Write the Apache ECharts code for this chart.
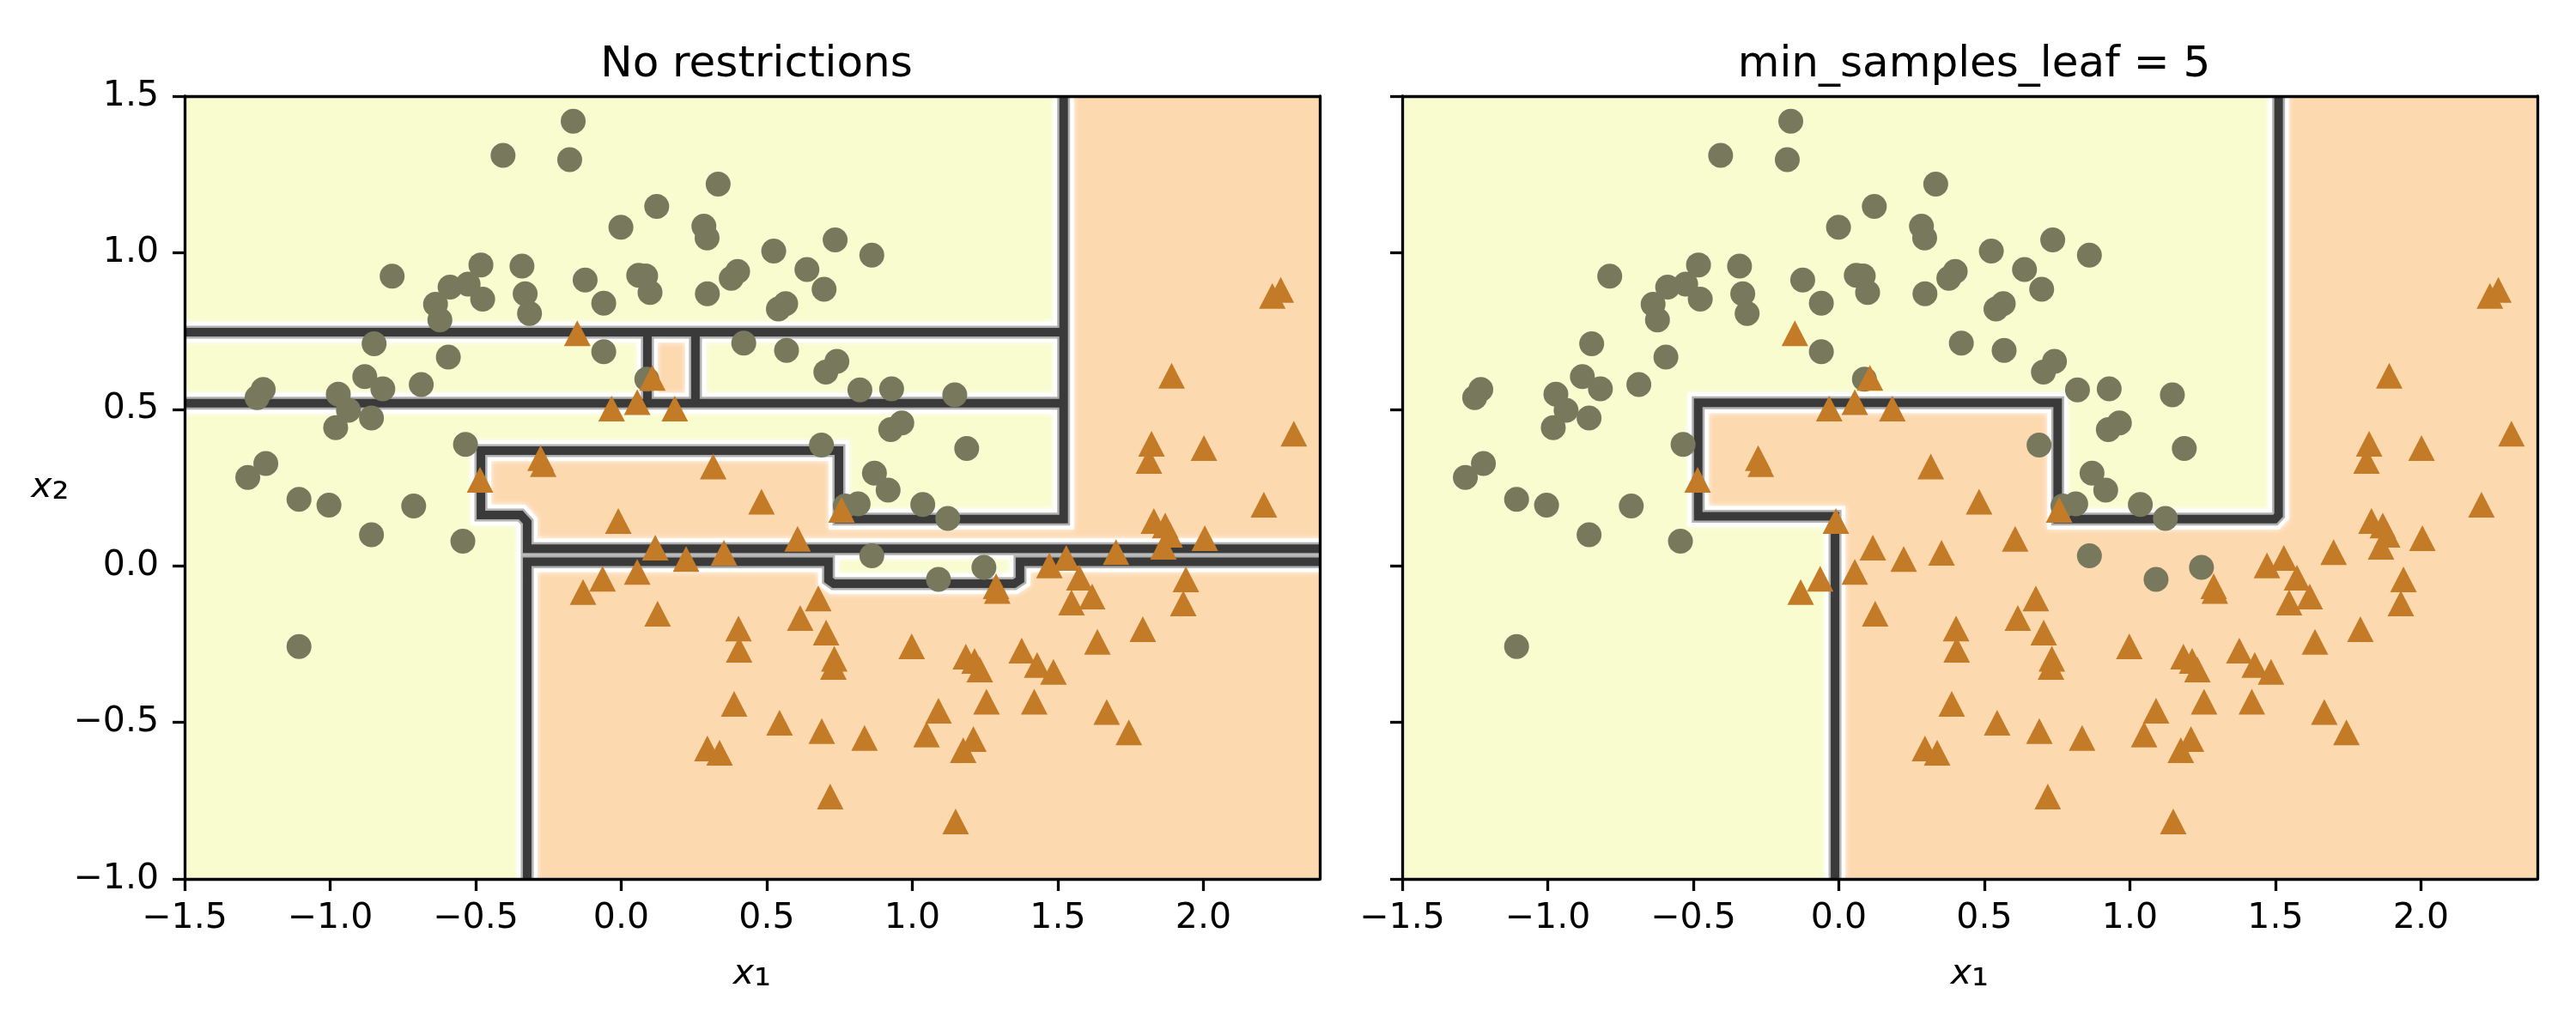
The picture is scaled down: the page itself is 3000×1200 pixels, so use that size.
<!DOCTYPE html>
<html>
<head>
<meta charset="utf-8">
<script src="https://cdn.jsdelivr.net/npm/echarts@6/dist/echarts.min.js"></script>
<style>
  html, body { margin: 0; padding: 0; background: #fff; }
  #chart { width: 3000px; height: 1200px; }
</style>
</head>
<body>
<div id="chart"></div>
<script>
// moons training set, class 0 (circles) and class 1 (triangles)
var class0 = [
  [-0.165,1.42],[-0.406,1.311],[-0.177,1.297],[0.333,1.219],[0.122,1.148],[-0.001,1.081],
  [0.284,1.085],[0.295,1.047],[0.735,1.041],[0.861,0.992],[0.524,1.005],[-0.787,0.925],
  [-0.482,0.961],[-0.341,0.957],[-0.526,0.900],[-0.588,0.890],[-0.638,0.835],[-0.476,0.852],
  [-0.330,0.869],[-0.315,0.806],[-0.623,0.785],[-0.124,0.913],[-0.060,0.839],[0.060,0.928],
  [0.084,0.926],[0.099,0.873],[0.296,0.869],[0.378,0.918],[0.400,0.940],[0.638,0.946],
  [0.540,0.820],[0.565,0.837],[0.697,0.883],[-0.849,0.709],[-0.594,0.667],[-0.060,0.684],
  [0.421,0.711],[0.568,0.688],[0.741,0.653],[0.703,0.619],[0.820,0.562],[0.929,0.565],
  [1.146,0.546],[0.088,0.596],[-1.230,0.563],[-1.251,0.537],[-0.972,0.548],[-0.937,0.497],
  [-0.881,0.604],[-0.819,0.565],[-0.687,0.579],[-0.858,0.472],[-0.981,0.441],[0.926,0.435],
  [0.964,0.456],[1.187,0.375],[0.688,0.386],[-0.535,0.388],[-1.283,0.282],[-1.221,0.327],
  [-1.107,0.212],[-1.004,0.194],[-0.713,0.191],[-0.858,0.099],[-0.544,0.079],[0.870,0.296],
  [0.917,0.242],[1.036,0.196],[1.122,0.151],[0.814,0.198],[0.770,0.191],[0.861,0.032],
  [1.090,-0.043],[1.246,-0.005],[-1.107,-0.258]
];
var class1 = [
  [-0.151,0.743],[2.237,0.862],[2.266,0.881],[0.107,0.600],[-0.033,0.502],[0.055,0.523],
  [0.184,0.502],[1.891,0.607],[2.311,0.422],[2.002,0.376],[1.822,0.390],[1.813,0.335],
  [-0.277,0.344],[-0.268,0.325],[-0.485,0.275],[0.316,0.317],[0.482,0.205],[-0.010,0.143],
  [0.757,0.179],[0.606,0.086],[0.117,0.058],[0.353,0.042],[0.223,0.022],[0.055,-0.019],
  [-0.064,-0.041],[-0.131,-0.084],[0.125,-0.153],[2.208,0.195],[1.830,0.143],[1.869,0.129],
  [1.884,0.099],[1.863,0.061],[2.005,0.088],[1.700,0.044],[1.529,0.025],[1.471,0.001],
  [1.288,-0.065],[1.292,-0.080],[1.574,-0.038],[1.547,-0.117],[1.618,-0.098],[1.940,-0.043],
  [1.931,-0.120],[0.677,-0.104],[0.615,-0.167],[0.704,-0.213],[0.403,-0.200],[0.405,-0.268],
  [0.732,-0.297],[0.729,-0.323],[0.998,-0.257],[1.184,-0.290],[1.214,-0.304],[1.232,-0.331],
  [1.376,-0.271],[1.429,-0.317],[1.485,-0.339],[1.636,-0.243],[1.792,-0.202],[0.388,-0.441],
  [0.544,-0.501],[0.689,-0.528],[0.836,-0.550],[1.090,-0.463],[1.049,-0.539],[1.255,-0.434],
  [1.419,-0.434],[1.210,-0.553],[1.175,-0.589],[1.668,-0.467],[1.744,-0.532],[0.296,-0.583],
  [0.338,-0.597],[0.718,-0.737],[1.149,-0.816]
];

// predicted class-1 regions (data coords) of each tree
var leftRegions = [
  [[1.52,1.5],[2.4,1.5],[2.4,0.055],[-0.323,0.055],[-0.323,0.14],[-0.345,0.162],[-0.482,0.162],
   [-0.482,0.368],[0.748,0.368],[0.748,0.149],[1.52,0.149]],
  [[-0.323,0.013],[0.712,0.013],[0.712,-0.057],[1.37,-0.057],[1.37,0.013],[2.4,0.013],[2.4,-1],[-0.323,-1]],
  [[0.09,0.746],[0.255,0.746],[0.255,0.519],[0.09,0.519]]
];
var leftBounds = [
  [[-1.5,0.746],[1.52,0.746]],
  [[-1.5,0.519],[1.52,0.519]],
  [[0.09,0.746],[0.09,0.519]],
  [[0.255,0.746],[0.255,0.519]],
  [[1.52,1.5],[1.52,0.149],[0.748,0.149],[0.748,0.368],[-0.482,0.368],[-0.482,0.162],
   [-0.345,0.162],[-0.323,0.14],[-0.323,0.055],[2.4,0.055]],
  [[2.4,0.013],[1.37,0.013],[1.37,-0.045],[1.35,-0.057],[0.73,-0.057],[0.712,-0.045],
   [0.712,0.013],[-0.323,0.013],[-0.323,-1]]
];
var rightRegions = [
  [[1.511,1.5],[2.4,1.5],[2.4,-1],[-0.013,-1],[-0.013,0.158],[-0.483,0.158],[-0.483,0.521],
   [0.752,0.521],[0.752,0.149],[1.511,0.149]]
];
var rightBounds = [
  [[1.511,1.5],[1.511,0.162],[1.498,0.149],[0.752,0.149],[0.752,0.521],[-0.483,0.521],
   [-0.483,0.158],[-0.013,0.158],[-0.013,-1]]
];

var titles = ["No restrictions", "min_samples_leaf = 5"];
var xTicks = [-1.5, -1.0, -0.5, 0.0, 0.5, 1.0, 1.5, 2.0];

var FONT = "DejaVu Sans";
var YELLOW = "#f9fccf";
var ORANGE = "#fdd9b0";

var fmt = (v) => (v < 0 ? "\u2212" : "") + Math.abs(v).toFixed(1);

var grids = [
  { left: 215, top: 112, width: 1322, height: 912 },
  { left: 1633, top: 112, width: 1322, height: 912 },
];

var nameRich = {
  i: { fontSize: 41, fontStyle: "italic", fontFamily: FONT, color: "#000" },
  n: { fontSize: 50, fontFamily: FONT, color: "#000" },
};

var makeX = (gi, main) => ({
  type: "value",
  gridIndex: gi,
  position: main ? "bottom" : "top",
  min: -1.5,
  max: 2.4,
  z: 10,
  axisLine: { show: true, onZero: false, lineStyle: { color: "#000", width: 3.3 } },
  axisTick: { show: main, length: 14, lineStyle: { color: "#000", width: 3.3 }, customValues: xTicks },
  axisLabel: {
    show: main, margin: 26, fontSize: 41, fontFamily: FONT, color: "#000",
    customValues: xTicks, formatter: fmt,
  },
  splitLine: { show: false },
  name: main ? "{i|x}{n|\u2081}" : "",
  nameLocation: "middle",
  nameGap: 86,
  nameTextStyle: { rich: nameRich },
});

var makeY = (gi, main, labels) => ({
  type: "value",
  gridIndex: gi,
  position: main ? "left" : "right",
  min: -1,
  max: 1.5,
  interval: 0.5,
  z: 10,
  axisLine: { show: true, onZero: false, lineStyle: { color: "#000", width: 3.3 } },
  axisTick: { show: main, length: 14, lineStyle: { color: "#000", width: 3.3 } },
  axisLabel: {
    show: main && labels, margin: 30, fontSize: 41, fontFamily: FONT, color: "#000",
    formatter: fmt,
  },
  splitLine: { show: false },
  name: main && labels ? "{i|x}{n|\u2082}" : "",
  nameLocation: "middle",
  nameRotate: 0,
  nameGap: 124,
  nameTextStyle: { rich: nameRich },
});

var regionSeries = (regions, xi, yi) => ({
  type: "custom",
  xAxisIndex: xi,
  yAxisIndex: yi,
  clip: true,
  z: 1,
  silent: true,
  data: regions.map((r) => r[0]),
  renderItem: function (params, api) {
    var pts = regions[params.dataIndex].map((p) => api.coord(p));
    return { type: "polygon", shape: { points: pts }, style: { fill: ORANGE } };
  },
});

var boundSeries = (bounds, xi, yi, style, z) => ({
  type: "lines",
  coordinateSystem: "cartesian2d",
  xAxisIndex: xi,
  yAxisIndex: yi,
  polyline: true,
  silent: true,
  z: z,
  lineStyle: style,
  data: bounds.map((b) => ({ coords: b })),
});

// contour look: white halo, grey fringe, dark core
var glow = { color: "#ffffff", width: 24, opacity: 0.95, shadowBlur: 6, shadowColor: "#ffffff" };
var fringe = { color: "#a8a8a8", width: 15, opacity: 0.9 };
var core = { color: "#3a3a3a", width: 10, opacity: 1 };

var scatterSeries = (data, xi, yi, sym) => ({
  type: "scatter",
  xAxisIndex: xi,
  yAxisIndex: yi,
  z: 5,
  silent: true,
  symbol: sym === "o" ? "circle" : "triangle",
  symbolSize: sym === "o" ? 29 : [31, 30],
  itemStyle: { color: sym === "o" ? "#78785c" : "#c47b27", opacity: 1 },
  data: data,
});

var chart = echarts.init(document.getElementById("chart"), null, { renderer: "canvas" });

var series = [];
[[leftRegions, leftBounds], [rightRegions, rightBounds]].forEach(([regions, bounds], i) => {
  series.push(regionSeries(regions, i, i));
  series.push(boundSeries(bounds, i, i, glow, 2));
  series.push(boundSeries(bounds, i, i, fringe, 3));
  series.push(boundSeries(bounds, i, i, core, 4));
  series.push(scatterSeries(class0, i, i, "o"));
  series.push(scatterSeries(class1, i, i, "^"));
});

chart.setOption({
  backgroundColor: "#ffffff",
  animation: false,
  title: titles.map((t, i) => ({
    text: t,
    left: grids[i].left + grids[i].width / 2,
    top: 46,
    textAlign: "center",
    textStyle: { fontSize: 50, fontWeight: "normal", fontFamily: FONT, color: "#000" },
  })),
  grid: grids.map((g) => Object.assign({ show: true, backgroundColor: YELLOW, borderWidth: 0 }, g)),
  xAxis: [makeX(0, true), makeX(1, true), makeX(0, false), makeX(1, false)],
  yAxis: [makeY(0, true, true), makeY(1, true, false), makeY(0, false), makeY(1, false)],
  series: series,
});
</script>
</body>
</html>
